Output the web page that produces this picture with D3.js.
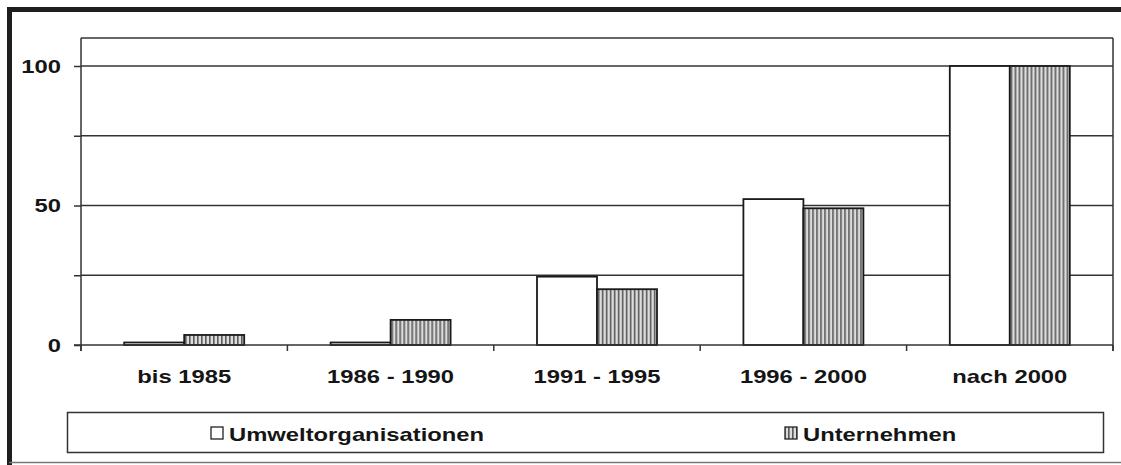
<!DOCTYPE html>
<html><head><meta charset="utf-8">
<script src="https://cdn.jsdelivr.net/npm/d3@7"></script>
<style>
html,body{margin:0;padding:0;background:#fff;}
svg{display:block;}
text{font-family:"Liberation Sans",Arial,sans-serif;font-weight:bold;fill:#151515;}
</style></head>
<body>
<script>
const categories = ["bis 1985","1986 - 1990","1991 - 1995","1996 - 2000","nach 2000"];
const seriesNames = ["Umweltorganisationen","Unternehmen"];
const umwelt = [0.9, 0.9, 24.5, 52.3, 100];
const unternehmen = [3.6, 9, 20, 49, 100];
const yTicks = [0, 25, 50, 75, 100];
const yLabels = [0, 50, 100];

const W = 1121, H = 465;
const svg = d3.select("body").append("svg").attr("width", W).attr("height", H);

const defs = svg.append("defs");
const pat = defs.append("pattern").attr("id","hatch").attr("patternUnits","userSpaceOnUse")
  .attr("width",4).attr("height",10);
pat.append("rect").attr("width",4).attr("height",10).attr("fill","#dcdcdc");
pat.append("rect").attr("x",0).attr("width",1.6).attr("height",10).attr("fill","#5a5a5a");

// outer frame
svg.append("rect").attr("x",7).attr("y",7).attr("width",W-7).attr("height",5).attr("fill","#1e1e1e");
svg.append("rect").attr("x",7).attr("y",7).attr("width",5).attr("height",H-7).attr("fill","#1e1e1e");
svg.append("line").attr("x1",9).attr("x2",W).attr("y1",462.5).attr("y2",462.5).attr("stroke","#777").attr("stroke-width",1.5);

const left = 81, right = 1113, zeroY = 345;
const y = d3.scaleLinear().domain([0,110]).range([zeroY, zeroY - 110*2.79]);
const x = d3.scaleBand().domain(categories).range([left,right]).paddingInner(0).paddingOuter(0);
const xs = d3.scaleBand().domain(seriesNames).range([0, x.bandwidth()]).paddingInner(0).paddingOuter(0.72);

const g = svg.append("g");
// gridlines
g.selectAll(".grid").data(yTicks.filter(d=>d>0)).join("line")
  .attr("x1",left).attr("x2",right).attr("y1",d=>y(d)).attr("y2",d=>y(d))
  .attr("stroke","#333").attr("stroke-width",1.5);
// plot frame top and right
g.append("line").attr("x1",left).attr("x2",right).attr("y1",y(110)).attr("y2",y(110)).attr("stroke","#333").attr("stroke-width",1.5);
g.append("line").attr("x1",right).attr("x2",right).attr("y1",y(110)).attr("y2",zeroY+6).attr("stroke","#333").attr("stroke-width",1.5);

// bars
const data = categories.map((c,i)=>({c, vals:[{s:seriesNames[0],v:umwelt[i]},{s:seriesNames[1],v:unternehmen[i]}]}));
const groups = g.selectAll(".grp").data(data).join("g").attr("transform",d=>`translate(${x(d.c)},0)`);
groups.selectAll("rect").data(d=>d.vals).join("rect")
  .attr("x",d=>xs(d.s)).attr("width",xs.bandwidth())
  .attr("y",d=>y(d.v)).attr("height",d=>zeroY - y(d.v))
  .attr("fill",d=>d.s===seriesNames[0]?"#fff":"url(#hatch)")
  .attr("stroke","#1a1a1a").attr("stroke-width",1.8);

// y axis
const yAxis = d3.axisLeft(y).tickValues(yTicks).tickSize(7).tickFormat(d=>yLabels.includes(d)?d:"");
const ya = g.append("g").attr("transform",`translate(${left},0)`).call(yAxis);
ya.select(".domain").remove();
ya.selectAll(".tick line").attr("stroke","#333").attr("stroke-width",1.5);
ya.selectAll(".tick text").remove();
g.append("line").attr("x1",left).attr("x2",left).attr("y1",y(110)).attr("y2",zeroY+6).attr("stroke","#333").attr("stroke-width",1.5);
g.append("line").attr("x1",left-7).attr("x2",right).attr("y1",zeroY).attr("y2",zeroY).attr("stroke","#333").attr("stroke-width",1.5);

const SX = 1.36;
g.selectAll(".ylab").data(yLabels).join("text")
  .attr("transform",d=>`translate(61,${y(d)+6.5}) scale(${SX},1)`)
  .attr("text-anchor","end").attr("font-size",17.5).text(d=>d);

// x axis ticks at boundaries
const bounds = categories.map(c=>x(c)).concat([right]);
g.selectAll(".xt").data(bounds).join("line")
  .attr("x1",d=>d).attr("x2",d=>d).attr("y1",zeroY).attr("y2",zeroY+6)
  .attr("stroke","#333").attr("stroke-width",1.5);
g.selectAll(".xlab").data(categories).join("text")
  .attr("transform",d=>`translate(${x(d)+x.bandwidth()/2},382.5) scale(${SX},1)`)
  .attr("text-anchor","middle").attr("font-size",17.5).text(d=>d);

// legend
const leg = svg.append("g");
leg.append("rect").attr("x",67.5).attr("y",412.5).attr("width",1036).attr("height",40)
  .attr("fill","#fff").attr("stroke","#333").attr("stroke-width",1.5);
const legPos = [{s:seriesNames[0],x:211,fill:"#fff"},{s:seriesNames[1],x:785,fill:"url(#hatch)"}];
leg.selectAll(".sw").data(legPos).join("rect")
  .attr("x",d=>d.x).attr("y",427).attr("width",12).attr("height",12)
  .attr("fill",d=>d.fill).attr("stroke","#222").attr("stroke-width",1.3);
leg.selectAll(".lt").data(legPos).join("text")
  .attr("transform",d=>`translate(${d.x+18},440.5) scale(${SX},1)`)
  .attr("font-size",17.5).text(d=>d.s);
</script>
</body></html>
